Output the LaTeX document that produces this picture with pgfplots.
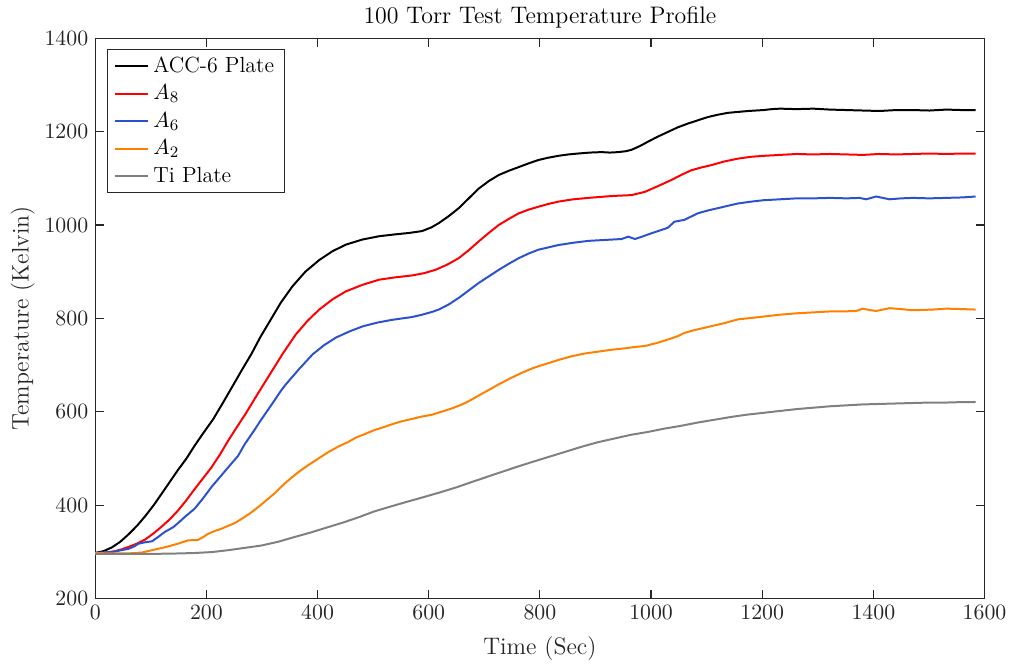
\documentclass[border=0pt]{standalone}
\usepackage{pgfplots}
\pgfplotsset{compat=1.18}
\definecolor{axgray}{rgb}{0.15,0.15,0.15}
\definecolor{myred}{rgb}{1.0,0.0,0.0}
\definecolor{myblue}{rgb}{0.17,0.32,0.80}
\definecolor{myorange}{rgb}{1.0,0.5,0.0}
\definecolor{mygray}{rgb}{0.5,0.5,0.5}
\begin{document}
\begin{tikzpicture}
\begin{axis}[
 width=446.5pt, height=281.5pt, scale only axis,
 xmin=0, xmax=1600, ymin=200, ymax=1400,
 xtick={0,200,...,1600}, ytick={200,400,...,1400},
 tick align=inside, tick pos=both, major tick length=4.5pt,
 axis line style={axgray, line width=0.6pt},
 every tick/.style={axgray, line width=0.6pt},
 tick label style={font=\fontsize{11}{13}\selectfont, text=axgray},
 /pgf/number format/1000 sep={},
 every axis title shift=0pt,
 title={100 Torr Test Temperature Profile},
 title style={font=\fontsize{12}{14}\selectfont, at={(axis description cs:0.5,1.037)}, anchor=center},
 xlabel={Time (Sec)}, ylabel={Temperature (Kelvin)},
 xlabel style={font=\fontsize{12}{14}\selectfont, text=axgray, at={(axis description cs:0.5,-0.0888)}, anchor=center},
 ylabel style={font=\fontsize{12}{14}\selectfont, text=axgray, at={(axis description cs:-0.0817,0.5)}, anchor=center},
 legend style={at={(axis description cs:0.0134,0.9805)}, anchor=north west, draw=axgray, line width=0.5pt, fill=white, font=\fontsize{11}{13}\selectfont, inner xsep=3pt, inner ysep=1.5pt, row sep=0.8pt},
 legend image code/.code={\draw[#1] (0pt,0pt) -- (17pt,0pt);},
 legend cell align=left,
]
\addplot[black, line width=1pt] coordinates {
(0,298)(15,302)(30,310)(45,322)(60,338)(75,356)(90,377)(105,400)(119,424)(134,450)(149,476)(164,500)(179,528)(194,554)(212,584)(230,620)(248,657)(264,690)(281,724)(297,760)(314,794)(334,834)(355,869)(378,900)(403,925)(427,944)(451,958)(481,969)(511,976)(540,980)(565,983)(588,987)(605,995)(618,1004)(636,1019)(654,1036)(672,1057)(690,1078)(708,1094)(726,1107)(744,1116)(762,1124)(780,1132)(797,1139)(815,1144)(833,1148)(851,1151)(869,1153)(890,1155)(911,1156)(926,1155)(941,1156)(955,1158)(965,1161)(980,1169)(994,1178)(1012,1189)(1030,1199)(1048,1209)(1066,1217)(1084,1224)(1102,1231)(1120,1236)(1138,1240)(1156,1242)(1175,1244)(1202,1246)(1217,1248)(1232,1249)(1262,1248)(1292,1249)(1322,1247)(1352,1246)(1381,1245)(1411,1244)(1441,1246)(1471,1246)(1501,1245)(1531,1247)(1560,1246)(1584,1246)};
\addlegendentry{ACC-6 Plate}
\addplot[myred, line width=1pt] coordinates {
(0,298)(18,299)(36,302)(48,306)(60,311)(75,318)(90,327)(105,340)(119,354)(134,370)(149,389)(164,411)(179,435)(194,458)(209,481)(224,508)(239,538)(254,566)(270,595)(292,638)(314,680)(337,724)(361,766)(382,795)(403,819)(427,841)(451,858)(481,872)(511,883)(540,888)(570,892)(592,897)(612,904)(633,915)(654,929)(672,946)(690,965)(708,983)(726,1000)(744,1013)(762,1025)(780,1033)(797,1039)(815,1045)(833,1050)(860,1055)(887,1058)(929,1062)(965,1064)(989,1071)(1012,1083)(1036,1096)(1054,1107)(1072,1117)(1090,1123)(1108,1128)(1132,1136)(1156,1142)(1180,1146)(1202,1148)(1232,1150)(1262,1152)(1292,1151)(1322,1152)(1352,1151)(1381,1150)(1411,1152)(1441,1151)(1471,1152)(1501,1153)(1531,1152)(1560,1153)(1584,1153)};
\addlegendentry{$A_8$}
\addplot[myblue, line width=1pt] coordinates {
(0,298)(30,300)(60,307)(70,312)(78,318)(90,321)(102,323)(114,333)(125,343)(140,353)(150,363)(161,375)(179,393)(194,415)(209,439)(224,460)(239,481)(257,506)(269,531)(284,557)(299,584)(317,615)(334,645)(343,659)(367,692)(391,723)(412,743)(433,759)(457,772)(481,783)(507,791)(534,797)(552,800)(570,803)(588,808)(606,814)(618,819)(636,830)(654,844)(672,860)(690,876)(708,890)(726,904)(744,917)(762,929)(780,939)(797,947)(815,952)(833,957)(860,962)(887,966)(917,968)(947,970)(959,975)(971,970)(986,976)(1000,982)(1015,988)(1030,994)(1042,1007)(1060,1011)(1072,1018)(1084,1025)(1102,1031)(1120,1036)(1138,1041)(1156,1046)(1180,1050)(1202,1053)(1232,1055)(1262,1057)(1292,1057)(1322,1058)(1352,1057)(1375,1058)(1387,1055)(1405,1061)(1417,1058)(1429,1055)(1450,1057)(1471,1058)(1501,1057)(1531,1058)(1560,1059)(1584,1061)};
\addlegendentry{$A_6$}
\addplot[myorange, line width=1pt] coordinates {
(0,298)(30,297)(59,297)(84,299)(102,304)(117,308)(131,312)(149,318)(167,325)(185,326)(194,332)(203,339)(215,345)(227,350)(239,356)(251,362)(266,373)(281,385)(296,399)(311,414)(323,426)(334,439)(346,452)(358,464)(370,475)(382,485)(400,499)(418,513)(436,525)(454,535)(469,545)(486,553)(502,561)(518,567)(535,574)(552,580)(570,585)(588,590)(606,594)(622,600)(638,606)(654,613)(669,621)(684,631)(705,645)(726,659)(747,672)(768,684)(788,694)(809,702)(833,711)(857,719)(881,725)(905,729)(929,733)(953,736)(971,739)(989,741)(1012,748)(1036,757)(1048,762)(1060,769)(1078,775)(1096,780)(1114,785)(1132,790)(1156,798)(1180,801)(1202,804)(1232,808)(1262,811)(1292,813)(1322,815)(1345,815)(1369,816)(1381,821)(1393,818)(1405,816)(1417,819)(1429,822)(1450,820)(1466,818)(1483,818)(1507,819)(1531,821)(1560,820)(1584,819)};
\addlegendentry{$A_2$}
\addplot[mygray, line width=1pt] coordinates {
(0,296)(50,296)(100,296)(150,297)(179,298)(210,300)(239,304)(269,309)(299,314)(329,322)(358,332)(388,342)(418,353)(448,364)(475,375)(502,387)(533,398)(562,408)(592,418)(621,428)(651,439)(680,451)(710,463)(725,469)(755,481)(784,492)(814,503)(844,514)(874,525)(904,535)(934,543)(964,551)(994,557)(1023,564)(1053,570)(1083,577)(1113,583)(1143,589)(1172,594)(1202,598)(1232,602)(1262,606)(1292,609)(1322,612)(1352,614)(1381,616)(1411,617)(1441,618)(1471,619)(1501,620)(1531,620)(1560,621)(1584,621)};
\addlegendentry{Ti Plate}
\end{axis}
\path ([xshift=-2pt]current bounding box.west);
\end{tikzpicture}
\end{document}
